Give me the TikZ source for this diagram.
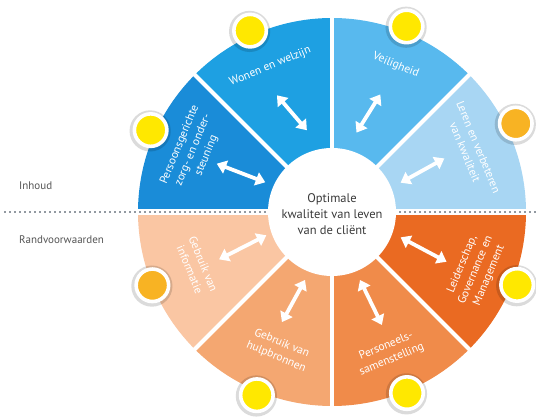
\documentclass[tikz,border=0pt]{standalone}
\usepackage{fontspec}
\setmainfont{PT Sans}
\usetikzlibrary{arrows.meta}

% sector colours
\definecolor{secLeren}{HTML}{A8D6F3}
\definecolor{secVeilig}{HTML}{58B9EE}
\definecolor{secWonen}{HTML}{1EA0E2}
\definecolor{secZorg}{HTML}{1A8CD8}
\definecolor{secInfo}{HTML}{FAC6A3}
\definecolor{secHulp}{HTML}{F4A771}
\definecolor{secPers}{HTML}{F08B4A}
\definecolor{secLeider}{HTML}{EA6A22}
% markers and text
\definecolor{sunYellow}{HTML}{FFE800}
\definecolor{sunOrange}{HTML}{F8B323}
\definecolor{sideText}{HTML}{555555}
\definecolor{coreText}{HTML}{3A3A3A}
\definecolor{dotGray}{HTML}{243242}

\tikzset{
  seclabel/.style={text=white, align=center, font=\fontsize{11.5}{14.5}\selectfont, inner sep=0pt},
  sidelabel/.style={text=sideText, anchor=west, font=\fontsize{11}{12}\selectfont, inner sep=0pt},
  dblarrow/.style={draw=white, line width=3.8pt,
    {Triangle[width=13.5pt,length=9.5pt]}-{Triangle[width=13.5pt,length=9.5pt]}},
  sun/.style={circle, draw=white, line width=3.6pt, minimum size=32.5pt, inner sep=0pt},
  dotline/.style={draw=dotGray, line width=1.6pt, line cap=round, dash pattern=on 0pt off 5pt}
}

\begin{document}
\begin{tikzpicture}[x=1pt,y=1pt]
\useasboundingbox (0,0) rectangle (536,417);
\fill[white] (0,0) rectangle (536,417);
\coordinate (C) at (332,205);

% eight sectors of the wheel
\foreach \a/\col in {0/secLeren,45/secVeilig,90/secWonen,135/secZorg,
                     180/secInfo,225/secHulp,270/secPers,315/secLeider}
  \fill[\col] (C) -- ++(\a:194) arc[start angle=\a, end angle=\a+45, radius=194] -- cycle;

% white gaps between the sectors
\foreach \a in {45,90,135,225,270,315}
  \draw[white, line width=4pt] (C) -- ++(\a:197);
\draw[white, line width=6pt] ([xshift=-197pt]C) -- ([xshift=197pt]C);

% dotted divider between content and preconditions
\coordinate (dl) at (5,205);
\coordinate (dr) at (536,205);
\draw[dotline] (dl) -- (dr);

% central disc
\fill[white] (C) circle[radius=64];
\node[text=coreText, align=center, font=\fontsize{12.5}{16}\selectfont] (core) at ([yshift=-2pt]C)
  {Optimale\\kwaliteit van leven\\van de cliënt};

% double arrows: centre angle / distance / direction / length
\foreach \c/\d/\r/\l in {24.6/99.5/29/50, 69.7/105/58/45, 112/107/130.6/46, 156.8/99/159/52,
                         201.6/96/207/53, 246.6/97/241.3/48, 293.3/98.5/296/50, 337.7/99/332/52}
  \draw[dblarrow] ([shift={(\c:\d)}]C) ++(\r+180:\l/2) -- ++(\r:\l);

% sector labels
\node[seclabel, rotate=-67.5] (lLeren) at ([shift={(24:153)}]C) {Leren en verbeteren\\van kwaliteit};
\node[seclabel, rotate=-22.5] (lVeilig) at ([shift={(66.5:160)}]C) {Veiligheid};
\node[seclabel, rotate=22.5] (lWonen) at ([shift={(113:158)}]C) {Wonen en welzijn};
\node[seclabel, rotate=67.5] (lZorg) at ([shift={(156:152)}]C) {Persoonsgerichte\\zorg- en onder-\\steuning};
\node[seclabel, rotate=-67.5] (lInfo) at ([shift={(202:146)}]C) {Gebruik van\\informatie};
\node[seclabel, rotate=-22.5] (lHulp) at ([shift={(249:148)}]C) {Gebruik van\\hulpbronnen};
\node[seclabel, rotate=22.5] (lPers) at ([shift={(292:152)}]C) {Personeels-\\samenstelling};
\node[seclabel, rotate=67.5] (lLeider) at ([shift={(338:155)}]C) {Leiderschap,\\Governance en\\Management};

% markers on the rim
\foreach \n/\a/\rr/\col in {mLeren/25.7/204/sunOrange, mVeilig/68.1/200/sunYellow,
                            mWonen/114.3/199/sunYellow, mZorg/155.7/199/sunYellow,
                            mInfo/202.2/194/sunOrange, mHulp/247.7/198/sunYellow,
                            mPers/292.5/196/sunYellow, mLeider/338.5/199/sunYellow} {
  \fill[black, opacity=0.14] ([shift={(\a:\rr)}]C) ++(-0.5,-0.8) circle[radius=20.6];
  \node[sun, fill=\col] (\n) at ([shift={(\a:\rr)}]C) {};
}

% side labels
\node[sidelabel] (inhoud) at (19,231) {Inhoud};
\node[sidelabel] (rand) at (19,177) {Randvoorwaarden};
\end{tikzpicture}
\end{document}
